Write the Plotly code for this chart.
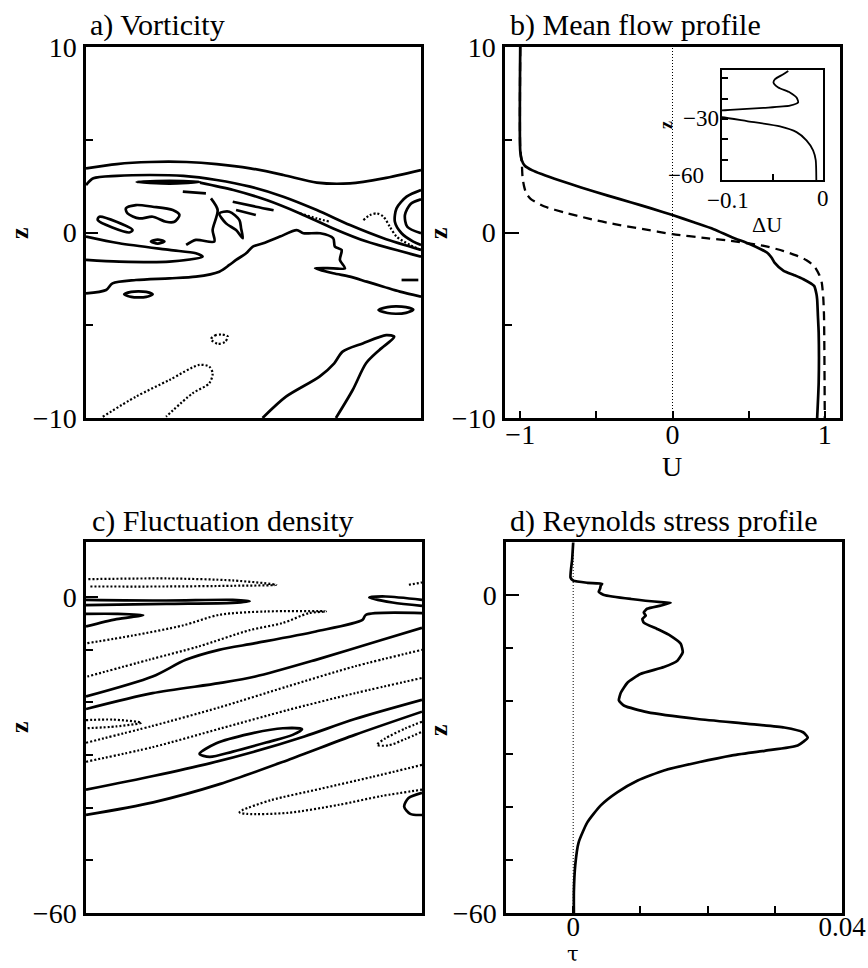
import plotly.graph_objects as go

FONT = "Liberation Serif"

# ---------------- Panel b: mean flow profile ----------------
Z_MEAN = [10, 4.4, 3.9, 3.6, 3.35, 3.15, 2.8, 2.43, 2.0, 1.62, 1.3, 0.94, 0.55, 0.18, -0.25, -0.63,
          -0.9, -1.08, -1.35, -1.62, -2.07, -2.3, -2.52, -2.88, -3.3, -3.6, -4.5, -5.4, -8.1, -10]
U_MEAN = [-1.0, -1.0, -0.99, -0.97, -0.92, -0.86, -0.74, -0.6, -0.43, -0.27, -0.14, 0.0, 0.14, 0.27, 0.39, 0.51,
          0.58, 0.62, 0.65, 0.67, 0.73, 0.80, 0.86, 0.93, 0.945, 0.95, 0.955, 0.96, 0.96, 0.95]
Z_BASE = [10, 4.5, 3.8, 3.0, 2.5, 2.1, 1.8, 1.4, 1.08, 0.75, 0.45, 0.2, -0.09, -0.3, -0.45, -0.72, -1.0,
          -1.26, -1.5, -1.8, -2.3, -2.7, -3.5, -4.5, -10]
U_BASE = [-1.0, -1.0, -0.99, -0.985, -0.975, -0.96, -0.93, -0.84, -0.71, -0.55, -0.38, -0.2, 0.0, 0.22, 0.38,
          0.6, 0.73, 0.82, 0.88, 0.93, 0.965, 0.98, 0.99, 0.995, 1.0]
U_TICKS = [-1, 0, 1]

# inset: deviation of mean flow
Z_INSET = [-6.5, -8.1, -10.5, -12.2, -14.6, -17, -19.5, -21.9, -23.5, -24.6, -25.6, -26.5, -27.5, -28.5,
           -29.2, -31.1, -33.7, -36.5, -40.5, -45.4, -50.3, -60]
DU_INSET = [-0.0344, -0.0393, -0.0475, -0.049, -0.0443, -0.0328, -0.0262, -0.0246, -0.0328, -0.059, -0.0918,
            -0.12, -0.14, -0.12, -0.1, -0.0754, -0.0426, -0.0262, -0.0164, -0.0098, -0.0072, -0.0066]
INSET_X_TICKS = [-0.1, 0]
INSET_Y_TICKS = [-30, -60]

# ---------------- Panel d: Reynolds stress ----------------
Z_TAU = [9.9, 6.8, 3.3, 2.7, 2.3, 2.1, 1.76, 1.2, 0.6, 0, -0.75, -1.4, -1.5, -2.0, -2.6, -3.3, -3.9, -4.5,
         -5.2, -6.4, -7.7, -9.2, -10.8, -12.4, -13.6, -14.9, -16.5, -18.4, -19.9, -20.9, -22.1, -23.4, -24.3,
         -25.0, -25.9, -26.9, -28.4, -29.4, -30.3, -31.6, -33.1, -35, -37.2, -39.7, -42.9, -46.7, -51, -56, -60]
TAU = [0, -0.00015, -0.0004, 0, 0.0021, 0.0043, 0.0041, 0.0040, 0.0038, 0.0046, 0.0086, 0.0135, 0.0145,
       0.013, 0.011, 0.0105, 0.0108, 0.0103, 0.0105, 0.0125, 0.0145, 0.016, 0.0163, 0.0155, 0.0135, 0.010,
       0.0081, 0.0071, 0.0068, 0.0076, 0.011, 0.0185, 0.026, 0.0314, 0.0342, 0.0349, 0.0334, 0.0285, 0.0235,
       0.0185, 0.0135, 0.0096, 0.0066, 0.0041, 0.0021, 0.0008, 0.0003, 0.0001, 0.0001]

# ---------------- Panel a: vorticity contours (x in % of domain, z) ----------------
VORT_SOLID_1 = [(0, 3.46), (9.2, 3.69), (19.1, 3.8), (30, 3.8), (39, 3.69), (49, 3.46), (58.9, 3.1),
                (68.9, 2.69), (78.8, 2.65), (88.8, 2.92), (100, 3.37)]
VORT_SOLID_2 = [(0, 2.56), (2.2, 2.92), (9.2, 3.05), (19.1, 3.1), (29.1, 3.05), (39, 2.83), (49, 2.47),
                (58.9, 1.93), (68.9, 1.21), (78.8, 0.4), (88.8, -0.31), (100, -0.94)]
VORT_SOLID_3 = [(34, 2.69), (44, 2.29), (53.9, 1.75), (63.9, 1.03), (73.8, 0.22), (83.8, -0.49), (100, -1.3)]
VORT_SOLID_4 = [(0, -0.22), (9.9, -0.58), (24.9, -0.94), (32.8, -1.12), (34.8, -1.30), (24.9, -1.57),
                (9.9, -1.57), (0, -1.48)]
VORT_SOLID_5 = [(0, -3.28), (6, -3.10), (7.9, -2.74), (14.9, -2.56), (24.9, -2.47), (32.8, -2.38),
                (39.8, -2.11), (42.8, -1.75), (44.8, -1.48), (47.8, -1.12), (49.8, -0.76), (52.9, -0.58),
                (57.9, -0.22), (62.9, 0.13), (64.9, -0.04), (69.9, -0.04), (73.8, -0.31), (74.3, -0.76),
                (76.3, -0.94), (75.8, -1.48), (77.3, -1.93), (73.8, -1.93), (68.4, -1.93), (73.8, -2.20),
                (78.8, -2.38), (83.8, -2.65), (88.8, -2.92), (93.7, -3.19), (100, -3.46)]
VORT_SOLID_6 = [(11.9, 1.30), (14.9, 1.48), (19.9, 1.39), (25.9, 1.21), (27.9, 0.94), (26.4, 0.58),
                (23.9, 0.58), (19.9, 0.85), (15.9, 0.76), (12.4, 1.03), (11.9, 1.30)]
VORT_SOLID_7 = [(4, 0.85), (13.9, 0.13), (12.9, 0), (3.5, 0.67), (4, 0.85)]
VORT_SOLID_8 = [(19.4, -0.49), (21.4, -0.38), (23.4, -0.49), (21.4, -0.6), (19.4, -0.49)]
VORT_SOLID_9 = [(11.4, -3.33), (13.5, -3.2), (15.6, -3.17), (18, -3.2), (19.9, -3.33), (18, -3.47),
                (15.6, -3.5), (13.5, -3.47), (11.4, -3.33)]
VORT_SOLID_10 = [(87.3, -4.18), (90, -4.02), (92.5, -3.98), (95.5, -4.02), (97.7, -4.15), (95.5, -4.33),
                 (92.5, -4.38), (90, -4.34), (87.3, -4.18)]
VORT_SOLID_11 = [(94.2, -2.56), (99.2, -2.56)]
VORT_SOLID_12 = [(100, 2.29), (95.7, 1.93), (92.7, 1.3), (92.2, 0.58), (94.2, -0.04), (97.7, -0.49), (100, -0.67)]
VORT_SOLID_13 = [(100, 1.79), (96.9, 1.54), (95.2, 0.94), (95.9, 0.31), (100, -0.04)]
VORT_SOLID_14 = [(15.1, 2.72), (25, 2.78), (34, 2.72), (25, 2.64), (15.1, 2.72)]
VORT_SOLID_15 = [(28.9, 2.2), (35.8, 2.11)]
VORT_SOLID_16 = [(43.8, 1.66), (50.7, 1.39), (56, 1.2)]
VORT_SOLID_17 = [(44.8, 1.21), (50.7, 0.94)]
VORT_SOLID_18 = [(39.8, 1.03), (42.8, 1.12), (45.8, 0.67), (46.3, 0.22), (46.8, -0.31), (44.8, 0.13),
                 (41.8, 0.49), (39.8, 1.03)]
VORT_SOLID_19 = [(37.3, 1.84), (39.3, 1.21), (37.8, 0.13), (38.3, -0.49), (32.8, -0.40), (29.9, -0.67)]
VORT_SOLID_20 = [(52.7, -10), (59.7, -8.85), (69.7, -7.77), (74.1, -7.05), (76.6, -6.42), (82.6, -5.98),
                 (89.6, -5.53), (92, -5.62), (87.6, -6.33), (83.6, -7.05), (79.6, -8.49), (74.6, -10)]
VORT_DOT_1 = [(82.8, 0.67), (84.8, 0.94), (86.8, 1.03), (88.8, 0.85), (90.7, 0.31), (92.7, -0.22),
              (96.7, -0.67), (100, -0.94)]
VORT_DOT_2 = [(63.9, 1.03), (68.9, 0.76), (72.8, 0.58)]
VORT_DOT_3 = [(37.3, -5.75), (38.5, -5.55), (40.5, -5.5), (42.3, -5.6), (41.5, -5.9), (39.3, -6.0), (37.3, -5.75)]
VORT_DOT_4 = [(5, -9.93), (14.9, -8.85), (24.9, -7.95), (33.8, -7.14), (36.8, -7.23), (37.8, -7.59),
              (36.8, -8.13), (31.8, -8.67), (23.9, -9.93)]

# ---------------- Panel c: fluctuation density contours ----------------
DENS_DOT_1 = [(0.7, 3.35), (23.9, 3.48), (43.7, 3.10), (56.6, 2.28), (43.7, 2.09), (23.9, 1.96), (0.7, 1.96)]
DENS_DOT_2 = [(96.1, 2.28), (100, 2.72)]
DENS_DOT_3 = [(0.4, -8.8), (14, -7.34), (28.8, -5.44), (39.7, -3.42), (53.6, -2.78), (71.4, -2.78),
              (66.4, -3.1), (58.4, -5.0), (48.7, -6.33), (33.8, -9.37), (19, -11.9), (0.4, -15.13)]
DENS_DOT_4 = [(0, -23.4), (8, -23.3), (16.5, -23.9), (9, -24.6), (0, -24.94)]
DENS_DOT_5 = [(0, -27.7), (19.8, -24.5), (39.6, -21.0), (60, -17.0), (80, -13.2), (100, -10.06)]
DENS_DOT_6 = [(0, -31.3), (20, -28.5), (40, -25.0), (60, -21.5), (80, -18.3), (100, -15.4)]
DENS_DOT_7 = [(100, -23.7), (95, -25.0), (89, -26.9), (86.6, -28.1), (90, -28.2), (95, -27.0), (100, -25.6)]
DENS_DOT_8 = [(100, -31.9), (85, -34.2), (70, -36.4), (55, -38.6), (46.5, -40.5), (45.7, -40.9), (48, -41.2),
              (60, -41.0), (75, -39.5), (88, -37.8), (100, -36.6)]
DENS_SOLID_1 = [(0, -0.57), (23.9, -0.70), (43.7, -0.57), (48.7, -0.82), (43.7, -1.14), (23.9, -1.33), (0, -1.58)]
DENS_SOLID_2 = [(100, -0.57), (89.2, 0.06), (84.3, -0.13), (91.2, -1.08), (100, -1.71)]
DENS_SOLID_3 = [(0, -3.23), (9.1, -3.23), (17, -3.48), (9.1, -4.24), (0, -5.63)]
DENS_SOLID_4 = [(0, -18.92), (19.8, -15.13), (29.7, -11.96), (39.6, -10.06), (50.4, -8.8), (68.4, -6.58),
                (82.3, -4.37), (83.3, -3.42), (100, -3.1)]
DENS_SOLID_5 = [(0, -21.3), (19.8, -18.29), (39.6, -16.39), (50.4, -15.13), (68.4, -11.96), (88.2, -8.16),
                (100, -5.9)]
DENS_SOLID_6 = [(0, -36.6), (20, -34.0), (36.8, -31.6), (50, -29.4), (65, -26.5), (80, -23.2), (100, -19.56)]
DENS_SOLID_7 = [(0, -41.4), (20, -39.0), (40, -35.5), (60, -31.0), (80, -26.2), (100, -21.8)]
DENS_SOLID_8 = [(33.8, -29.8), (38.8, -27.78), (48.7, -26.0), (58.6, -24.94), (64.3, -25.13), (61.5, -26.2),
                (53.6, -27.66), (43.7, -29.37), (36.8, -30.38), (33.8, -29.8)]
DENS_SOLID_9 = [(100, -37.2), (96, -38.2), (94.7, -39.8), (96.5, -41.2), (100, -41.4)]

VORT_SOLID = [VORT_SOLID_1, VORT_SOLID_2, VORT_SOLID_3, VORT_SOLID_4, VORT_SOLID_5, VORT_SOLID_6,
              VORT_SOLID_7, VORT_SOLID_8, VORT_SOLID_9, VORT_SOLID_10, VORT_SOLID_11, VORT_SOLID_12,
              VORT_SOLID_13, VORT_SOLID_14, VORT_SOLID_15, VORT_SOLID_16, VORT_SOLID_17, VORT_SOLID_18,
              VORT_SOLID_19, VORT_SOLID_20]
VORT_DOT = [VORT_DOT_1, VORT_DOT_2, VORT_DOT_3, VORT_DOT_4]
DENS_SOLID = [DENS_SOLID_1, DENS_SOLID_2, DENS_SOLID_3, DENS_SOLID_4, DENS_SOLID_5, DENS_SOLID_6,
              DENS_SOLID_7, DENS_SOLID_8, DENS_SOLID_9]
DENS_DOT = [DENS_DOT_1, DENS_DOT_2, DENS_DOT_3, DENS_DOT_4, DENS_DOT_5, DENS_DOT_6, DENS_DOT_7, DENS_DOT_8]

W, H = 868, 968


def px_x(p):
    return p / W


def px_y(p):
    return 1 - p / H


fig = go.Figure()


def add_contours(lines, xa, ya, solid):
    for ln in lines:
        fig.add_trace(go.Scatter(
            x=[p[0] for p in ln], y=[p[1] for p in ln], mode="lines", xaxis=xa, yaxis=ya,
            line=dict(color="black", width=2.7 if solid else 2.2, shape="spline", smoothing=0.8,
                      dash="solid" if solid else "2px,2px"),
            showlegend=False, hoverinfo="skip"))


add_contours(VORT_SOLID, "x", "y", True)
add_contours(VORT_DOT, "x", "y", False)
add_contours(DENS_SOLID, "x3", "y3", True)
add_contours(DENS_DOT, "x3", "y3", False)

# panel b
fig.add_trace(go.Scatter(x=[0, 0], y=[-10, 10], mode="lines", xaxis="x2", yaxis="y2",
                         line=dict(color="black", width=1, dash="1px,2px"), showlegend=False))
fig.add_trace(go.Scatter(x=U_BASE, y=Z_BASE, mode="lines", xaxis="x2", yaxis="y2",
                         line=dict(color="black", width=2.3, dash="9px,6px", shape="spline", smoothing=0.6),
                         showlegend=False))
fig.add_trace(go.Scatter(x=U_MEAN, y=Z_MEAN, mode="lines", xaxis="x2", yaxis="y2",
                         line=dict(color="black", width=2.7, shape="spline", smoothing=0.6), showlegend=False))
# inset
fig.add_trace(go.Scatter(x=DU_INSET, y=Z_INSET, mode="lines", xaxis="x5", yaxis="y5",
                         line=dict(color="black", width=1.8, shape="spline", smoothing=0.6), showlegend=False))
# panel d
fig.add_trace(go.Scatter(x=[0, 0], y=[-60, 10], mode="lines", xaxis="x4", yaxis="y4",
                         line=dict(color="black", width=1, dash="1px,2px"), showlegend=False))
fig.add_trace(go.Scatter(x=TAU, y=Z_TAU, mode="lines", xaxis="x4", yaxis="y4",
                         line=dict(color="black", width=2.7, shape="spline", smoothing=0.5), showlegend=False))

tickfont = dict(family=FONT, size=28, color="black")
box = dict(showline=True, linecolor="black", linewidth=2.5, mirror=True, showgrid=False, zeroline=False,
           automargin=False)

dom_a_x = [px_x(86), px_x(421)]
dom_b_x = [px_x(505), px_x(840)]
dom_c_x = [px_x(86), px_x(422)]
dom_d_x = [px_x(506), px_x(842)]
dom_top_y = [px_y(418), px_y(47)]
dom_bot_y = [px_y(913), px_y(542)]

fig.update_layout(
    width=W, height=H, margin=dict(l=0, r=0, t=0, b=0, autoexpand=False),
    paper_bgcolor="white", plot_bgcolor="white",
    font=dict(family=FONT, color="black"),
    xaxis=dict(domain=dom_a_x, range=[0, 100], showticklabels=False, ticks="", **box),
    yaxis=dict(domain=dom_top_y, range=[-10, 10], tickvals=[-10, 0, 10], ticktext=["\u221210", "0", "10"],
               ticks="inside", ticklen=12, tickwidth=2, tickcolor="black", tickfont=tickfont,
               ticklabelstandoff=1,
               minor=dict(tickvals=[-5, 5], ticks="inside", ticklen=7, tickwidth=2, tickcolor="black"), **box),
    xaxis2=dict(domain=dom_b_x, range=[-1.1, 1.1], tickvals=U_TICKS, ticktext=["\u22121", "0", "1"],
                ticks="inside", ticklen=7, tickwidth=2, tickcolor="black", tickfont=tickfont,
                ticklabelstandoff=-10,
                minor=dict(tickvals=[-0.5, 0.5], ticks="inside", ticklen=7, tickwidth=2, tickcolor="black"),
                anchor="y2", **box),
    yaxis2=dict(domain=dom_top_y, range=[-10, 10], tickvals=[-10, 0, 10], ticktext=["\u221210", "0", "10"],
                ticks="inside", ticklen=14, tickwidth=2, tickcolor="black", tickfont=tickfont,
                ticklabelstandoff=1,
                minor=dict(tickvals=[-5, 5], ticks="inside", ticklen=7, tickwidth=2, tickcolor="black"),
                anchor="x2", **box),
    xaxis3=dict(domain=dom_c_x, range=[0, 100], showticklabels=False, ticks="", anchor="y3", **box),
    yaxis3=dict(domain=dom_bot_y, range=[-60, 10.4], tickvals=[-60, 0], ticktext=["\u221260", "0"],
                ticks="inside", ticklen=12, tickwidth=2, tickcolor="black", tickfont=tickfont,
                ticklabelstandoff=1,
                minor=dict(tickvals=[-50, -40, -30, -20, -10], ticks="inside", ticklen=7, tickwidth=2,
                           tickcolor="black"),
                anchor="x3", **box),
    xaxis4=dict(domain=dom_d_x, range=[-0.01, 0.04], tickvals=[0, 0.04], ticktext=["0", "0.04"],
                ticks="inside", ticklen=7, tickwidth=2, tickcolor="black",
                tickfont=dict(family=FONT, size=27, color="black"), ticklabelstandoff=-12,
                minor=dict(tickvals=[0.01, 0.02, 0.03], ticks="inside", ticklen=7, tickwidth=2,
                           tickcolor="black"),
                anchor="y4", **box),
    yaxis4=dict(domain=dom_bot_y, range=[-60, 10], tickvals=[-60, 0], ticktext=["\u221260", "0"],
                ticks="inside", ticklen=13, tickwidth=2, tickcolor="black", tickfont=tickfont,
                ticklabelstandoff=1,
                minor=dict(tickvals=[-50, -40, -30, -20, -10], ticks="inside", ticklen=7, tickwidth=2,
                           tickcolor="black"),
                anchor="x4", **box),
    xaxis5=dict(domain=[px_x(722), px_x(823)], range=[-0.1, 0], tickvals=INSET_X_TICKS,
                showticklabels=False, ticks="inside", ticklen=6, tickwidth=1.5, tickcolor="black",
                minor=dict(tickvals=[-0.05], ticks="inside", ticklen=6, tickwidth=1.5, tickcolor="black"),
                anchor="y5", showline=True, linecolor="black", linewidth=2, mirror=True, showgrid=False,
                zeroline=False, automargin=False),
    yaxis5=dict(domain=[px_y(180), px_y(70)], range=[-60, -6], tickvals=INSET_Y_TICKS,
                showticklabels=False, ticks="inside", ticklen=6, tickwidth=1.5, tickcolor="black",
                minor=dict(tickvals=[-50, -40, -20, -10], ticks="inside", ticklen=6, tickwidth=1.5,
                           tickcolor="black"),
                anchor="x5", showline=True, linecolor="black", linewidth=2, mirror=True, showgrid=False,
                zeroline=False, automargin=False),
)

# inset tick labels (placed at the inset axes' own tick values)
inset_font = dict(family=FONT, size=23, color="black")
fig.add_annotation(text="\u221230", x=INSET_X_TICKS[0], y=INSET_Y_TICKS[0], xref="x5", yref="y5",
                   xanchor="right", yanchor="middle", xshift=-1, showarrow=False, font=inset_font)
fig.add_annotation(text="\u221260", x=INSET_X_TICKS[0], y=INSET_Y_TICKS[1], xref="x5", yref="y5",
                   xanchor="right", yanchor="middle", xshift=-16, yshift=5, showarrow=False, font=inset_font)
fig.add_annotation(text="\u22120.1", x=INSET_X_TICKS[0], y=INSET_Y_TICKS[1], xref="x5", yref="y5",
                   xanchor="center", yanchor="top", xshift=6, yshift=-6, showarrow=False, font=inset_font)
fig.add_annotation(text="0", x=INSET_X_TICKS[1], y=INSET_Y_TICKS[1], xref="x5", yref="y5",
                   xanchor="center", yanchor="top", yshift=-4, showarrow=False, font=inset_font)

titles = [("a) Vorticity", 88, 25), ("b) Mean flow profile", 508, 25),
          ("c) Fluctuation density", 90, 521), ("d) Reynolds stress profile", 508, 521)]
for txt, x0, y0 in titles:
    fig.add_annotation(text=txt, x=px_x(x0), y=px_y(y0), xref="paper", yref="paper", xanchor="left",
                       yanchor="middle", showarrow=False, font=dict(family=FONT, size=30, color="black"))

zlab = [(19, 233, 26), (438, 233, 26), (19, 727, 26), (438, 730, 26), (666, 125, 18)]
for x0, y0, s in zlab:
    fig.add_annotation(text="<b>z</b>", x=px_x(x0), y=px_y(y0), xref="paper", yref="paper", showarrow=False,
                       xanchor="center", yanchor="middle", textangle=-90,
                       font=dict(family=FONT, size=s, color="black"))

fig.add_annotation(text="U", x=px_x(672), y=px_y(466), xref="paper", yref="paper", showarrow=False,
                   xanchor="center", yanchor="middle", font=dict(family=FONT, size=28, color="black"))
fig.add_annotation(text="\u03c4", x=px_x(573), y=px_y(968), xref="paper", yref="paper", showarrow=False,
                   xanchor="center", yanchor="bottom", font=dict(family="DejaVu Serif", size=21, color="black"))
fig.add_annotation(text="\u0394U", x=px_x(767), y=px_y(225), xref="paper", yref="paper", showarrow=False,
                   xanchor="center", yanchor="middle", font=dict(family=FONT, size=22, color="black"))

fig.write_html("out.html", config={"displayModeBar": False},
               post_script="document.body.style.margin='0';document.body.style.overflow='hidden';")
